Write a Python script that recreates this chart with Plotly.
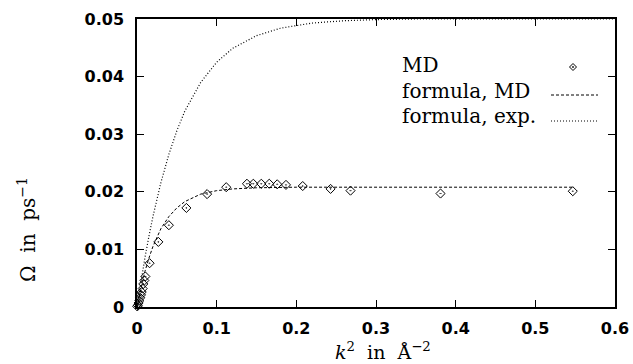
import plotly.graph_objects as go

# MD simulation points (k^2 in 1/A^2, Omega in 1/ps)
md_k2 = [0.0003, 0.001, 0.002, 0.003, 0.004, 0.005, 0.0059, 0.0071, 0.0079, 0.0092,
         0.0105, 0.0158, 0.0268, 0.040, 0.062, 0.088, 0.112, 0.138, 0.146, 0.156,
         0.166, 0.176, 0.187, 0.208, 0.243, 0.268, 0.381, 0.547]
md_omega = [0.0001, 0.0003, 0.0007, 0.0011, 0.0016, 0.0021, 0.0026, 0.0032, 0.0040, 0.0046,
            0.0053, 0.0076, 0.0113, 0.0142, 0.0172, 0.0196, 0.0208, 0.0214, 0.0214, 0.0214,
            0.0214, 0.0213, 0.0212, 0.0210, 0.0205, 0.0202, 0.0197, 0.0201]

# "formula, MD" curve
fmd_k2 = [0.0, 0.005, 0.01, 0.015, 0.02, 0.03, 0.04, 0.05, 0.06, 0.08, 0.10, 0.12,
          0.15, 0.20, 0.30, 0.40, 0.547]
fmd_omega = [0.0, 0.0034, 0.0062, 0.0085, 0.0105, 0.0136, 0.0157, 0.0172, 0.0183, 0.0196,
             0.0202, 0.0205, 0.0207, 0.0208, 0.0208, 0.0208, 0.0208]

# "formula, exp." curve
fex_k2 = [0.0, 0.005, 0.01, 0.015, 0.02, 0.03, 0.04, 0.05, 0.06, 0.08, 0.10, 0.12,
          0.15, 0.18, 0.22, 0.26, 0.30, 0.35, 0.40, 0.50, 0.60]
fex_omega = [0.0, 0.0045, 0.0086, 0.0123, 0.0157, 0.0216, 0.0265, 0.0306, 0.0340, 0.0390,
             0.0425, 0.0449, 0.0471, 0.0484, 0.0493, 0.0497, 0.0499, 0.0500, 0.0500, 0.0500, 0.0500]

x_ticks = [0, 0.1, 0.2, 0.3, 0.4, 0.5, 0.6]
x_tick_labels = ["0", "0.1", "0.2", "0.3", "0.4", "0.5", "0.6"]
y_ticks = [0, 0.01, 0.02, 0.03, 0.04, 0.05]
y_tick_labels = ["0", "0.01", "0.02", "0.03", "0.04", "0.05"]

legend_labels = ["MD", "formula, MD", "formula, exp."]

serif = "DejaVu Serif, Liberation Serif, serif"
sans_bold = "DejaVu Sans, Liberation Sans, sans-serif"

fig = go.Figure()
fig.add_trace(go.Scatter(x=fex_k2, y=fex_omega, mode="lines", showlegend=False,
                         line=dict(color="black", width=1.2, dash="1px,2px")))
fig.add_trace(go.Scatter(x=fmd_k2, y=fmd_omega, mode="lines", showlegend=False,
                         line=dict(color="black", width=1, dash="3px,2px")))
fig.add_trace(go.Scatter(x=md_k2, y=md_omega, mode="markers", showlegend=False, cliponaxis=False,
                         marker=dict(symbol="diamond-open-dot", size=7, color="black",
                                     line=dict(width=1, color="black"))))

axis_common = dict(showline=True, linecolor="black", linewidth=1.5, mirror="ticks",
                   ticks="inside", ticklen=7, tickwidth=1, tickcolor="black",
                   showgrid=False, zeroline=False, automargin=False,
                   tickfont=dict(family=sans_bold, size=16, color="black", weight="bold"))

fig.update_xaxes(range=[0, 0.6], tickvals=x_ticks, ticktext=x_tick_labels,
                 ticklabelstandoff=6, **axis_common)
fig.update_yaxes(range=[0, 0.05], tickvals=y_ticks, ticktext=y_tick_labels,
                 ticklabelstandoff=8, **axis_common)

annotations = [
    dict(text="<i>k</i><sup>2</sup>&nbsp;&nbsp;in&nbsp;&nbsp;Å<sup>−2</sup>", xref="paper", yref="paper",
         x=(383 - 137) / 478, y=(307 - 351) / 288, xanchor="center", yanchor="middle",
         showarrow=False, font=dict(family=serif, size=19, color="black")),
    dict(text="Ω&nbsp;&nbsp;in&nbsp;&nbsp;ps<sup>−1</sup>", xref="paper", yref="paper",
         x=(27 - 137) / 478, y=(307 - 230) / 288, xanchor="center", yanchor="middle",
         textangle=-90, showarrow=False, font=dict(family=serif, size=20, color="black")),
]
legend_y_px = [65, 91, 116]
for lab, ypx in zip(legend_labels, legend_y_px):
    annotations.append(dict(text=lab, xref="paper", yref="paper",
                            x=(400 - 137) / 478, y=(307 - ypx) / 288,
                            xanchor="left", yanchor="middle", showarrow=False,
                            font=dict(family=serif, size=20, color="black")))

x0s, x1s = (551 - 137) / 478, (598 - 137) / 478
shapes = [
    dict(type="line", xref="paper", yref="paper", x0=x0s, x1=x1s,
         y0=(307 - 95) / 288, y1=(307 - 95) / 288,
         line=dict(color="black", width=1, dash="3px,2px")),
    dict(type="line", xref="paper", yref="paper", x0=x0s, x1=x1s,
         y0=(307 - 121) / 288, y1=(307 - 121) / 288,
         line=dict(color="black", width=1.2, dash="1px,2px")),
    dict(type="path", xref="paper", yref="paper", xsizemode="pixel", ysizemode="pixel",
         xanchor=(573 - 137) / 478, yanchor=(307 - 67) / 288,
         path="M 0 3.5 L 3.5 0 L 0 -3.5 L -3.5 0 Z", line=dict(color="black", width=1)),
    dict(type="circle", xref="paper", yref="paper", xsizemode="pixel", ysizemode="pixel",
         xanchor=(573 - 137) / 478, yanchor=(307 - 67) / 288,
         x0=-0.7, x1=0.7, y0=-0.7, y1=0.7, fillcolor="black", line=dict(color="black", width=0.5)),
]

fig.update_layout(width=633, height=364, margin=dict(l=137, r=18, t=19, b=57),
                  paper_bgcolor="white", plot_bgcolor="white",
                  annotations=annotations, shapes=shapes, showlegend=False)

fig.write_html("out.html", config={"displayModeBar": False},
               post_script="document.body.style.margin='0';document.body.style.padding='0';"
                           "document.documentElement.style.overflow='hidden';")
